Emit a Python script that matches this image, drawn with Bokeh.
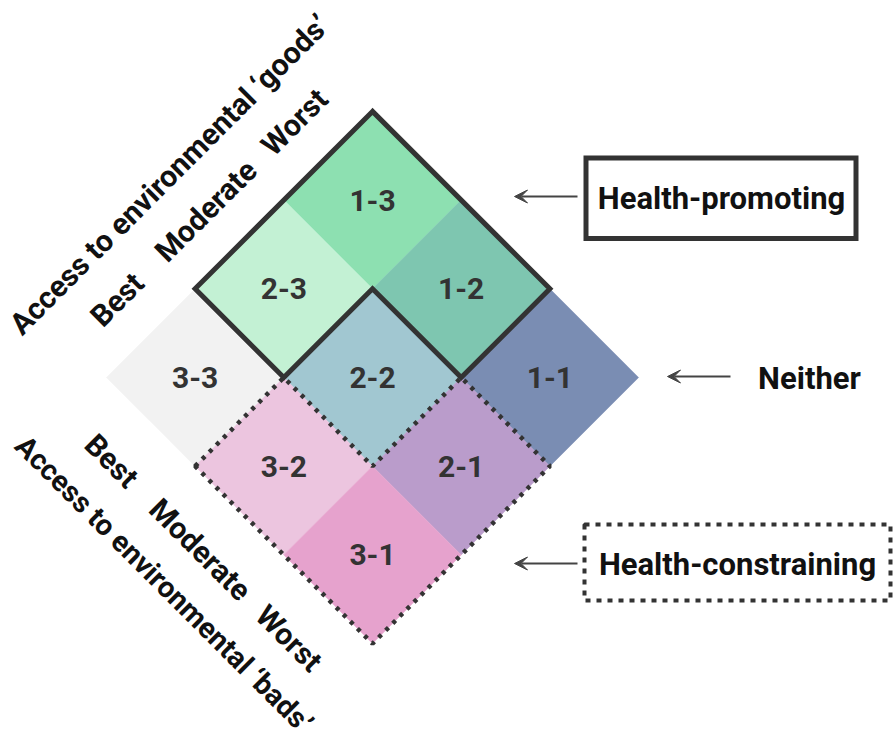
import math
from bokeh.plotting import figure
from bokeh.models import Range1d, Arrow, VeeHead, ColumnDataSource
from bokeh.core.properties import value
from bokeh.embed import file_html
from bokeh.resources import INLINE

# ---- data ----
codes = ["1-3", "2-3", "1-2", "3-3", "2-2", "1-1", "3-2", "2-1", "3-1"]
first = [1, 2, 1, 3, 2, 1, 3, 2, 3]
second = [3, 3, 2, 3, 2, 1, 2, 1, 1]
colors = ["#8de0b1", "#c3f1d4", "#7ec6b0", "#f2f2f2", "#a1c7d1",
          "#7a8db3", "#ecc5df", "#ba9ccb", "#e6a2cd"]

goods_levels = ["Best", "Moderate", "Worst"]
goods_index = [3, 2, 1]
bads_levels = ["Best", "Moderate", "Worst"]
bads_index = [3, 2, 1]
goods_title = "Access to environmental \u2018goods\u2019"
bads_title = "Access to environmental \u2018bads\u2019"

side_labels = ["Health-promoting", "Neither", "Health-constraining"]

# ---- geometry (layout) ----
W, H_ = 896, 747
CX, CY = 372.0, 370.0   # diamond centre (plot coords, y up; y_img = 747 - y)
HS = 88.7               # half cell diagonal

def gx(gu, gv):
    return CX + HS * (4 - gu - gv)

def gy(gu, gv):
    return CY - HS * (gu - gv)

p = figure(width=W, height=H_, output_backend="svg", toolbar_location=None,
           x_range=Range1d(0, 896), y_range=Range1d(0, 747), min_border=0)
p.axis.visible = False
p.grid.visible = False
p.outline_line_color = None
p.background_fill_color = "white"

# cells
xs, ys, cx, cy = [], [], [], []
for a, b in zip(first, second):
    corners = [(a - .5, b - .5), (a + .5, b - .5), (a + .5, b + .5), (a - .5, b + .5)]
    xs.append([gx(u, v) for u, v in corners])
    ys.append([gy(u, v) for u, v in corners])
    cx.append(gx(a, b))
    cy.append(gy(a, b))
src = ColumnDataSource(dict(xs=xs, ys=ys, x=cx, y=cy, code=codes, color=colors))
p.patches("xs", "ys", source=src, fill_color="color", line_color="color", line_width=0.5)
p.text("x", "y", text="code", source=src, text_align="center", text_baseline="middle",
       text_font=value("Roboto"), text_font_style="bold", text_font_size="30px",
       text_color="#333333")

# group outlines (grid-corner coordinates)
prom_grid = [(0.5, 3.5), (2.5, 3.5), (2.5, 2.5), (1.5, 2.5), (1.5, 1.5), (0.5, 1.5)]
cons_grid = [(3.5, 2.5), (2.5, 2.5), (2.5, 1.5), (1.5, 1.5), (1.5, 0.5), (3.5, 0.5)]
p.patch([gx(u, v) for u, v in prom_grid], [gy(u, v) for u, v in prom_grid],
        fill_color=None, line_color="#333333", line_width=5, line_join="miter")
p.patch([gx(u, v) for u, v in cons_grid], [gy(u, v) for u, v in cons_grid],
        fill_color=None, line_color="#333333", line_width=4.5, line_dash="4 6")

# left axis labels
FONT = value("Roboto")
d_up, d_up_t = 0.88, 1.29
p.text([gx(a, 3 + d_up) for a in goods_index], [gy(a, 3 + d_up) for a in goods_index],
       text=goods_levels, angle=math.pi / 4, text_align="center", text_baseline="middle",
       text_font=FONT, text_font_style="bold", text_font_size="30px", text_color="#111111")
p.text([gx(2, 3 + d_up_t)], [gy(2, 3 + d_up_t)], text=[goods_title], angle=math.pi / 4,
       text_align="center", text_baseline="middle", text_font=FONT, text_font_style="bold",
       text_font_size="30px", text_color="#111111")
d_lo, d_lo_t = 0.94, 1.34
p.text([gx(3 + d_lo, b) for b in bads_index], [gy(3 + d_lo, b) for b in bads_index],
       text=bads_levels, angle=-math.pi / 4, text_align="center", text_baseline="middle",
       text_font=FONT, text_font_style="bold", text_font_size="30px", text_color="#111111")
p.text([gx(3 + d_lo_t, 2.01)], [gy(3 + d_lo_t, 2.01)], text=[bads_title], angle=-math.pi / 4,
       text_align="center", text_baseline="middle", text_font=FONT, text_font_style="bold",
       text_font_size="29px", text_color="#111111")

# right-side annotations
ay = [747 - 196, 747 - 376, 747 - 563]
ax0 = [577, 730, 577]
ax1 = [514, 667, 514]
tx = [721, 809, 737]
ty = [747 - 198, 747 - 378, 747 - 564]
for x0, x1, y in zip(ax0, ax1, ay):
    p.add_layout(Arrow(end=VeeHead(size=13, line_color="#444444", fill_color="#444444", line_width=1),
                       x_start=x0, y_start=y, x_end=x1, y_end=y,
                       line_color="#444444", line_width=1.8))
# boxes
p.quad(left=[585.5], right=[855.5], top=[747 - 157.5], bottom=[747 - 238],
       fill_color="white", line_color="#333333", line_width=5, line_join="miter")
p.quad(left=[584], right=[890], top=[747 - 524], bottom=[747 - 600],
       fill_color="white", line_color="#333333", line_width=4, line_dash="5 6")
p.text(tx, ty, text=side_labels, text_align="center", text_baseline="middle",
       text_font=FONT, text_font_style="bold", text_font_size="31px", text_color="#111111")

open("out.html", "w").write(file_html(p, INLINE))
